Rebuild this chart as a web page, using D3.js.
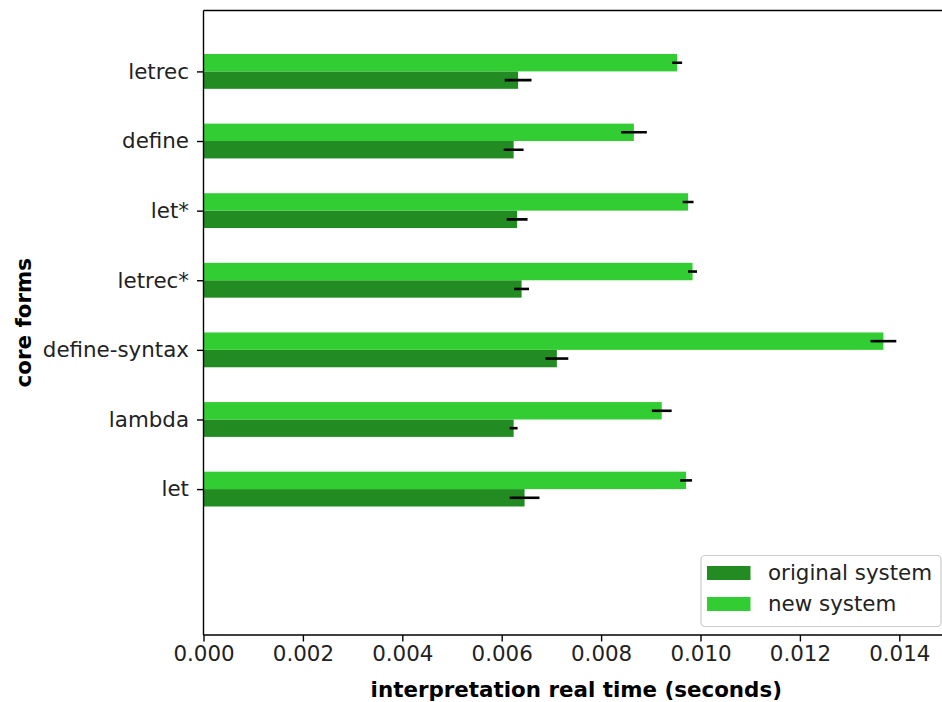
<!DOCTYPE html>
<html>
<head>
<meta charset="utf-8">
<script src="https://cdn.jsdelivr.net/npm/d3@7"></script>
<style>
  html, body { margin: 0; padding: 0; background: #fff; }
  svg { display: block; font-family: "DejaVu Sans", sans-serif; }
</style>
</head>
<body>
<svg id="chart" width="942" height="702"></svg>
<script>
// ---- data ----
const categories = ["let", "lambda", "define-syntax", "letrec*", "let*", "define", "letrec"];
const originalMeans = [0.00646, 0.00624, 0.00711, 0.00640, 0.00631, 0.00624, 0.00633];
const originalErrs  = [0.00030, 0.00008, 0.00023, 0.00015, 0.00021, 0.00020, 0.00027];
const newMeans      = [0.00971, 0.00922, 0.01368, 0.00984, 0.00975, 0.00866, 0.00953];
const newErrs       = [0.00012, 0.00020, 0.00026, 0.00009, 0.00011, 0.00026, 0.00010];
const seriesNames = ["original system", "new system"];
const seriesColors = ["#228B22", "#32CD32"];
const xTicks = [0, 0.002, 0.004, 0.006, 0.008, 0.010, 0.012, 0.014];
const xLabel = "interpretation real time (seconds)";
const yLabel = "core forms";

// ---- layout ----
const svg = d3.select("#chart");
const pLeft = 203.5, pRight = 949, pTop = 10.5, pBottom = 635;
const fs = 21.4;

const x = d3.scaleLinear().domain([0, 0.015]).range([pLeft, pRight]);
const y = d3.scaleLinear().domain([-2.096, 6.875]).range([pBottom, pTop]);
const barH = y(0) - y(0.25);

const series = [
  { name: seriesNames[0], color: seriesColors[0], means: originalMeans, errs: originalErrs, off: -0.125 },
  { name: seriesNames[1], color: seriesColors[1], means: newMeans, errs: newErrs, off: 0.125 }
];

// clip to plot area
svg.append("defs").append("clipPath").attr("id", "plotclip")
  .append("rect").attr("x", pLeft).attr("y", pTop).attr("width", pRight - pLeft).attr("height", pBottom - pTop);

const plot = svg.append("g").attr("clip-path", "url(#plotclip)");

series.forEach(s => {
  plot.append("g").selectAll("rect")
    .data(categories.map((c, i) => ({ i, v: s.means[i] })))
    .join("rect")
    .attr("x", x(0))
    .attr("y", d => y(d.i + s.off) - barH / 2)
    .attr("width", d => x(d.v) - x(0))
    .attr("height", barH)
    .attr("fill", s.color);
});
series.forEach(s => {
  plot.append("g").selectAll("line")
    .data(categories.map((c, i) => ({ i, v: s.means[i], e: s.errs[i] })))
    .join("line")
    .attr("x1", d => x(d.v - d.e))
    .attr("x2", d => x(d.v + d.e))
    .attr("y1", d => y(d.i + s.off))
    .attr("y2", d => y(d.i + s.off))
    .attr("stroke", "#000")
    .attr("stroke-width", 2.6);
});

// axes
const xAxis = d3.axisBottom(x).tickValues(xTicks).tickFormat(d3.format(".3f")).tickSize(6.5).tickPadding(4);
const gx = svg.append("g").attr("transform", `translate(0,${pBottom})`).call(xAxis);
gx.select(".domain").remove();
gx.selectAll(".tick line").attr("stroke", "#000").attr("stroke-width", 1.4);
gx.selectAll(".tick text").attr("font-size", fs).attr("fill", "#222").attr("font-family", "DejaVu Sans");

const yAxis = d3.axisLeft(y).tickValues(d3.range(categories.length)).tickFormat(i => categories[i]).tickSize(6.5).tickPadding(8);
const gy = svg.append("g").attr("transform", `translate(${pLeft},0)`).call(yAxis);
gy.select(".domain").remove();
gy.selectAll(".tick line").attr("stroke", "#000").attr("stroke-width", 1.4);
gy.selectAll(".tick text").attr("font-size", fs).attr("fill", "#222").attr("font-family", "DejaVu Sans");

// spines
const sp = svg.append("g").attr("stroke", "#000").attr("stroke-width", 1.4).attr("fill", "none");
sp.append("line").attr("x1", pLeft).attr("x2", pLeft).attr("y1", pTop).attr("y2", pBottom);
sp.append("line").attr("x1", pLeft).attr("x2", pRight).attr("y1", pBottom).attr("y2", pBottom);
sp.append("line").attr("x1", pLeft).attr("x2", pRight).attr("y1", pTop).attr("y2", pTop);
sp.append("line").attr("x1", pRight).attr("x2", pRight).attr("y1", pTop).attr("y2", pBottom);

// axis labels
svg.append("text")
  .attr("x", (pLeft + pRight) / 2).attr("y", 697)
  .attr("text-anchor", "middle").attr("font-size", fs).attr("font-weight", "bold").attr("fill", "#000")
  .text(xLabel);
svg.append("text")
  .attr("transform", `translate(30.5,${(pTop + pBottom) / 2}) rotate(-90)`)
  .attr("text-anchor", "middle").attr("font-size", fs).attr("font-weight", "bold").attr("fill", "#000")
  .text(yLabel);

// legend
const lg = svg.append("g");
lg.append("rect").attr("x", 701).attr("y", 555.5).attr("width", 240).attr("height", 71).attr("rx", 4)
  .attr("fill", "#fff").attr("fill-opacity", 0.8).attr("stroke", "#ccc").attr("stroke-width", 1.2);
series.forEach((s, k) => {
  const yy = 566 + k * 31;
  lg.append("rect").attr("x", 707).attr("y", yy).attr("width", 43.5).attr("height", 14).attr("fill", s.color);
  lg.append("text").attr("x", 768).attr("y", yy + 13.5).attr("font-size", fs).attr("fill", "#222").text(s.name);
});
</script>
</body>
</html>
